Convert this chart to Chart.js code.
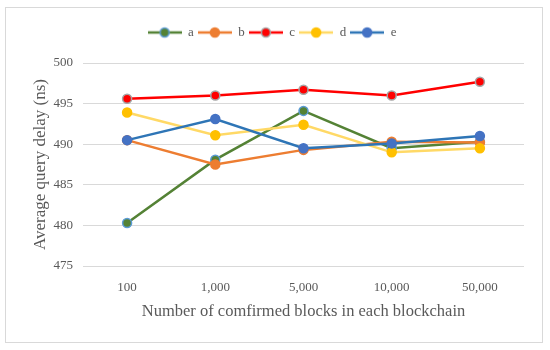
<!DOCTYPE html>
<html>
<head>
<meta charset="utf-8">
<script src="https://cdn.jsdelivr.net/npm/chart.js@4/dist/chart.umd.min.js"></script>
<style>
  html, body { margin: 0; padding: 0; background: #fff; }
  #wrap { width: 550px; height: 350px; }
</style>
</head>
<body>
<div id="wrap"><canvas id="delayChart"></canvas></div>
<script>
const blockCounts = ['100', '1,000', '5,000', '10,000', '50,000'];
const seriesA = [480.3, 488.1, 494.1, 489.5, 490.3];
const seriesB = [490.5, 487.5, 489.3, 490.3, 490.2];
const seriesC = [495.6, 496.0, 496.7, 496.0, 497.7];
const seriesD = [493.9, 491.1, 492.4, 489.0, 489.5];
const seriesE = [490.5, 493.1, 489.5, 490.1, 491.0];
const yTicks = [475, 480, 485, 490, 495, 500];

const serif = '"Liberation Serif", "DejaVu Serif", serif';

// small legend picture: line with a marker in the middle
function legendIcon(lineColor, fill, ring) {
    const c = document.createElement('canvas');
    c.width = 34;
    c.height = 14;
    const g = c.getContext('2d');
    g.strokeStyle = lineColor;
    g.lineWidth = 2.5;
    g.beginPath();
    g.moveTo(0, 7);
    g.lineTo(34, 7);
    g.stroke();
    g.beginPath();
    g.arc(17, 7, 4.5, 0, Math.PI * 2);
    g.fillStyle = fill;
    g.fill();
    g.lineWidth = 1.5;
    g.strokeStyle = ring;
    g.stroke();
    return c;
}

function makeSeries(label, data, lineColor, fill, ring, order) {
    return {
        label: label,
        data: data,
        borderColor: lineColor,
        borderWidth: 2.5,
        backgroundColor: fill,
        pointBackgroundColor: fill,
        pointBorderColor: ring,
        pointBorderWidth: 1.5,
        pointRadius: 4.5,
        pointHoverRadius: 4.5,
        tension: 0,
        order: order,
        legendIcon: legendIcon(lineColor, fill, ring)
    };
}

const frame = {
    id: 'frame',
    beforeDraw(chart) {
        const ctx = chart.ctx;
        ctx.save();
        ctx.strokeStyle = '#d9d9d9';
        ctx.lineWidth = 1;
        ctx.strokeRect(5.5, 7.5, 537, 335);
        ctx.restore();
    }
};

const legendBox = {
    id: 'legendBox',
    beforeInit(chart) {
        const fit = chart.legend.fit;
        chart.legend.fit = function () {
            fit.bind(chart.legend)();
            this.height = 41;
        };
    },
    afterLayout(chart) {
        // legend sits a bit right of the plot centre in the original
        chart.legend.left += 10;
        chart.legend.right += 10;
    }
};

const ctx = document.getElementById('delayChart').getContext('2d');
const chart = new Chart(ctx, {
    type: 'line',
    data: {
        labels: blockCounts,
        datasets: [
            makeSeries('a', seriesA, '#548235', '#548235', '#5b9bd5', 5),
            makeSeries('b', seriesB, '#ed7d31', '#ed7d31', '#ed7d31', 4),
            makeSeries('c', seriesC, '#ff0000', '#ff0000', '#a5a5a5', 3),
            makeSeries('d', seriesD, '#ffd966', '#ffc000', '#ffc000', 2),
            makeSeries('e', seriesE, '#2e75b6', '#4472c4', '#4472c4', 1)
        ]
    },
    options: {
        responsive: true,
        maintainAspectRatio: false,
        animation: false,
        layout: {
            padding: { left: 0, right: 26, top: 22, bottom: 28 }
        },
        scales: {
            y: {
                min: 475,
                max: 500,
                afterBuildTicks: (scale) => {
                    scale.ticks = yTicks.map(v => ({ value: v }));
                },
                afterFit: (scale) => { scale.width = 83; },
                grid: { color: '#d9d9d9', lineWidth: 1, drawTicks: false },
                border: { display: false },
                ticks: {
                    color: '#595959',
                    padding: 10,
                    font: { family: serif, size: 13 }
                },
                title: {
                    display: true,
                    text: 'Average query delay (ns)',
                    color: '#595959',
                    padding: { top: 30, bottom: 0 },
                    font: { family: serif, size: 17 }
                }
            },
            x: {
                offset: true,
                afterFit: (scale) => { scale.height = 56; },
                grid: { display: false, drawTicks: false, offset: true },
                border: { display: false },
                ticks: {
                    color: '#595959',
                    padding: 14,
                    font: { family: serif, size: 13 }
                },
                title: {
                    display: true,
                    text: 'Number of comfirmed blocks in each blockchain',
                    color: '#595959',
                    padding: { top: 6, bottom: 0 },
                    font: { family: serif, size: 16.5 }
                }
            }
        },
        plugins: {
            legend: {
                position: 'top',
                labels: {
                    usePointStyle: true,
                    pointStyleWidth: 34,
                    padding: 4,
                    color: '#595959',
                    font: { family: serif, size: 13 },
                    sort: (a, b) => a.datasetIndex - b.datasetIndex,
                    generateLabels: (ch) => ch.data.datasets.map((ds, i) => ({
                        text: ds.label,
                        pointStyle: ds.legendIcon,
                        fontColor: '#595959',
                        strokeStyle: ds.borderColor,
                        fillStyle: ds.backgroundColor,
                        lineWidth: 0,
                        hidden: false,
                        datasetIndex: i
                    }))
                }
            },
            tooltip: { enabled: false }
        }
    },
    plugins: [frame, legendBox]
});
</script>
</body>
</html>
